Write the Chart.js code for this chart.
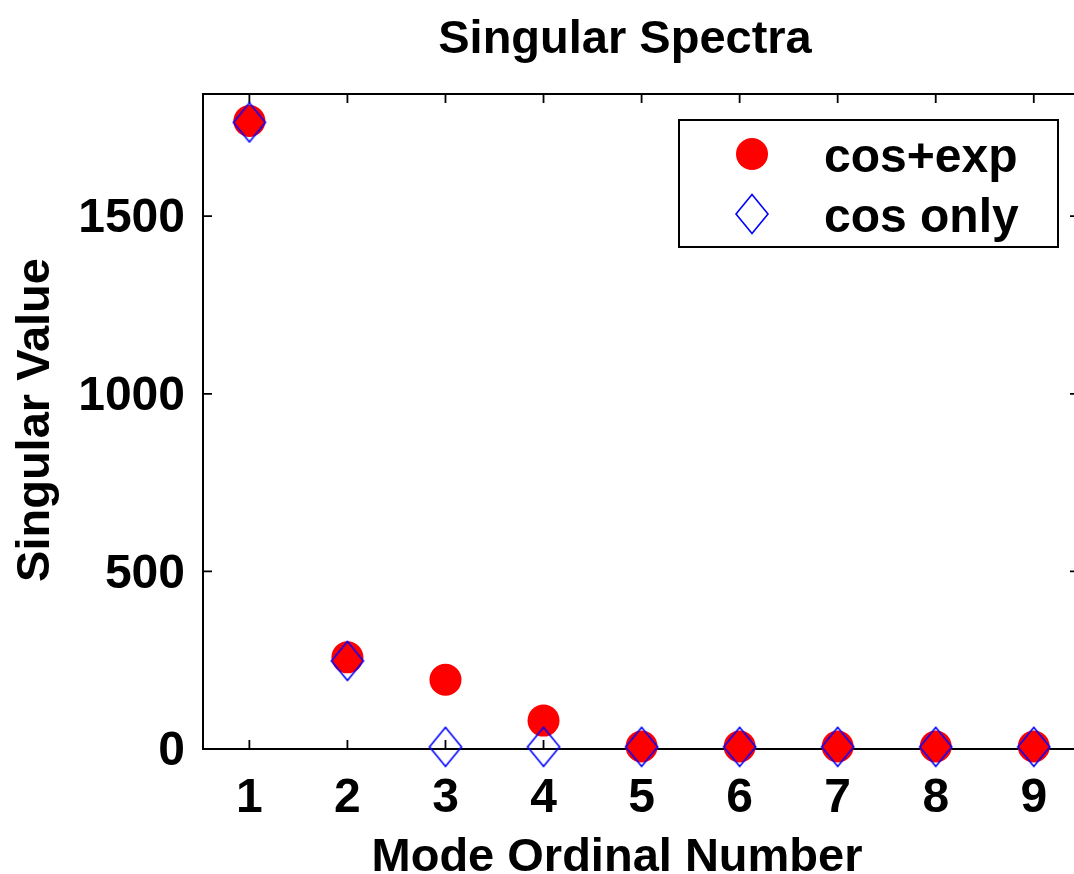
<!DOCTYPE html>
<html>
<head>
<meta charset="utf-8">
<script src="https://cdn.jsdelivr.net/npm/chart.js@4"></script>
<style>
  html, body { margin: 0; padding: 0; background: #fff; }
</style>
</head>
<body>
<canvas id="chart" width="1074" height="874"></canvas>
<script>
// data
const modes = [1, 2, 3, 4, 5, 6, 7, 8, 9];
const cosExp = [1768, 258, 195, 80, 7, 7, 7, 7, 7];
const cosOnly = [1764, 248, 6, 6, 6, 6, 6, 6, 6];
const yTicks = [0, 500, 1000, 1500];
const seriesNames = ['cos+exp', 'cos only'];
const titleText = 'Singular Spectra';
const xTitle = 'Mode Ordinal Number';
const yTitle = 'Singular Value';

const FONT = '"Liberation Sans", Arial, Helvetica, sans-serif';

// hollow blue diamond, a bit taller than wide (like matlab 'd')
const diamond = document.createElement('canvas');
diamond.width = 36;
diamond.height = 42;
const dctx = diamond.getContext('2d');
dctx.strokeStyle = '#0000ff';
dctx.lineWidth = 1.6;
dctx.beginPath();
dctx.moveTo(18, 1.5);
dctx.lineTo(34, 21);
dctx.lineTo(18, 40.5);
dctx.lineTo(2, 21);
dctx.closePath();
dctx.stroke();

const toPoints = (ys) => modes.map((m, i) => ({ x: m, y: ys[i] }));

// box around the axes with inward ticks on all four sides
// (the right side of the box sits just past the edge of the picture)
const framePlugin = {
  id: 'frame',
  beforeDatasetsDraw(chart) {
    const { ctx, chartArea: a, scales } = chart;
    const len = 9;
    const right = a.right + 8;
    ctx.save();
    ctx.strokeStyle = '#000';
    ctx.lineWidth = 2;
    ctx.strokeRect(a.left, a.top, right - a.left, a.bottom - a.top);
    ctx.lineWidth = 1.8;
    ctx.beginPath();
    scales.x.ticks.forEach((t) => {
      const px = scales.x.getPixelForValue(t.value);
      ctx.moveTo(px, a.bottom); ctx.lineTo(px, a.bottom - len);
      ctx.moveTo(px, a.top); ctx.lineTo(px, a.top + len);
    });
    scales.y.ticks.forEach((t) => {
      const py = scales.y.getPixelForValue(t.value);
      ctx.moveTo(a.left, py); ctx.lineTo(a.left + len, py);
      ctx.moveTo(right, py); ctx.lineTo(right - len - 2, py);
    });
    ctx.stroke();
    ctx.restore();
  },
};

// legend box inside the upper right of the axes
const legendPlugin = {
  id: 'boxLegend',
  afterDatasetsDraw(chart) {
    const { ctx } = chart;
    const bx = 679, by = 120, bw = 379, bh = 127;
    ctx.save();
    ctx.fillStyle = '#fff';
    ctx.fillRect(bx, by, bw, bh);
    ctx.strokeStyle = '#000';
    ctx.lineWidth = 2;
    ctx.strokeRect(bx, by, bw, bh);
    chart.data.datasets.forEach((ds, i) => {
      const my = 154 + i * 60;
      if (ds.pointStyle === 'circle') {
        ctx.fillStyle = ds.backgroundColor;
        ctx.beginPath();
        ctx.arc(752, my, ds.pointRadius, 0, Math.PI * 2);
        ctx.fill();
      } else {
        ctx.drawImage(ds.pointStyle, 752 - ds.pointStyle.width / 2, my - ds.pointStyle.height / 2);
      }
      ctx.fillStyle = '#000';
      ctx.font = 'bold 48px ' + FONT;
      ctx.textAlign = 'left';
      ctx.textBaseline = 'alphabetic';
      ctx.fillText(ds.label, 824, 172 + i * 60);
    });
    ctx.restore();
  },
};

// title and axis labels at the places the figure has them
const textPlugin = {
  id: 'figText',
  afterDraw(chart) {
    const { ctx } = chart;
    ctx.save();
    ctx.fillStyle = '#000';
    ctx.font = 'bold 47px ' + FONT;
    ctx.textAlign = 'center';
    ctx.textBaseline = 'alphabetic';
    ctx.fillText(titleText, 625, 53);
    ctx.fillText(xTitle, 617, 871);
    ctx.translate(49, 420);
    ctx.rotate(-Math.PI / 2);
    ctx.fillText(yTitle, 0, 0);
    ctx.restore();
  },
};

new Chart(document.getElementById('chart'), {
  type: 'scatter',
  data: {
    datasets: [
      {
        label: seriesNames[0],
        data: toPoints(cosExp),
        pointStyle: 'circle',
        pointRadius: 16,
        backgroundColor: '#ff0000',
        borderColor: '#ff0000',
        borderWidth: 0,
        clip: false,
        order: 1,
      },
      {
        label: seriesNames[1],
        data: toPoints(cosOnly),
        pointStyle: diamond,
        pointRadius: 18,
        backgroundColor: 'rgba(0,0,0,0)',
        borderColor: '#0000ff',
        borderWidth: 0,
        clip: false,
        order: 0,
      },
    ],
  },
  options: {
    responsive: false,
    devicePixelRatio: 1,
    animation: false,
    events: [],
    layout: {
      autoPadding: false,
      padding: { top: 94, right: 1, left: 0, bottom: 0 },
    },
    plugins: {
      legend: { display: false },
      title: { display: false },
      tooltip: { enabled: false },
    },
    scales: {
      x: {
        type: 'linear',
        min: 0.527,
        max: 9.4,
        grid: { display: false, drawTicks: false },
        border: { display: false },
        afterBuildTicks: (scale) => {
          scale.ticks = modes.map((v) => ({ value: v }));
        },
        afterFit: (scale) => {
          scale.height = 125;
          scale.paddingLeft = 0;
          scale.paddingRight = 0;
        },
        ticks: {
          color: '#000',
          padding: 21,
          maxRotation: 0,
          autoSkip: false,
          font: { family: FONT, size: 48, weight: 'bold' },
          callback: (v) => String(v),
        },
      },
      y: {
        type: 'linear',
        min: 0,
        max: 1844,
        grid: { display: false, drawTicks: false },
        border: { display: false },
        afterBuildTicks: (scale) => {
          scale.ticks = yTicks.map((v) => ({ value: v }));
        },
        afterFit: (scale) => {
          scale.width = 203;
          scale.paddingTop = 0;
          scale.paddingBottom = 0;
        },
        ticks: {
          color: '#000',
          padding: 18,
          labelOffset: 3,
          autoSkip: false,
          font: { family: FONT, size: 48, weight: 'bold' },
          callback: (v) => String(v),
        },
      },
    },
  },
  plugins: [framePlugin, legendPlugin, textPlugin],
});
</script>
</body>
</html>
